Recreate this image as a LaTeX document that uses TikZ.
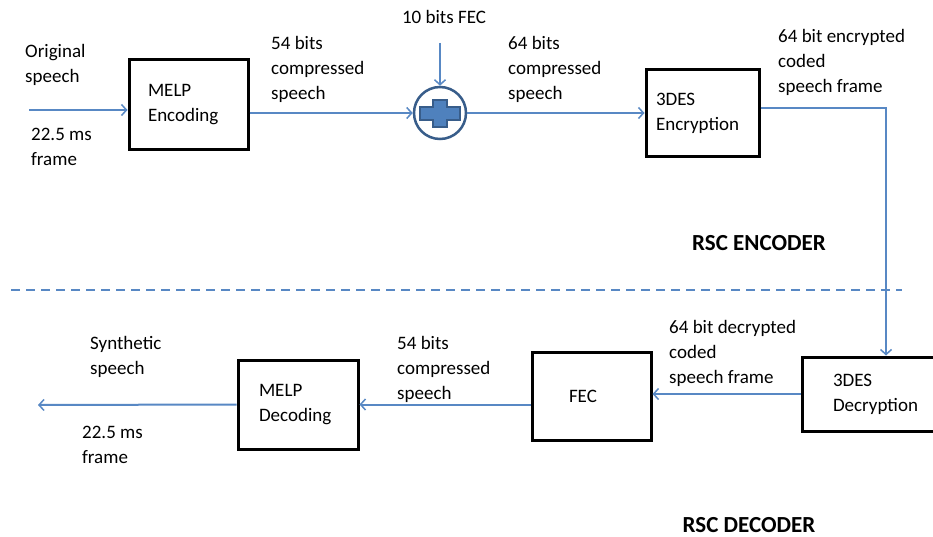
\documentclass[tikz,border=0pt]{standalone}
\usepackage{fontspec}
\setmainfont{Carlito}
\usetikzlibrary{arrows.meta,calc}
\definecolor{linec}{RGB}{88,136,196}
\definecolor{circc}{RGB}{56,93,138}
\definecolor{plusc}{RGB}{79,129,189}
\begin{document}
\begin{tikzpicture}[x=1pt,y=-1pt,
  box/.style={draw=black, line width=3pt, align=left, inner ysep=0pt,
    font=\fontsize{19}{25}\selectfont},
  lbl/.style={align=left, anchor=west, inner sep=0pt,
    font=\fontsize{19}{25}\selectfont},
  title/.style={inner sep=0pt, font=\fontsize{23}{28}\selectfont\bfseries},
  conn/.style={draw=linec, line width=2pt,
    -{Straight Barb[length=5pt,width=11pt,line width=1.5pt]}},
  plain/.style={draw=linec, line width=2pt}]
\clip (0,0) rectangle (933,537);
\fill[white] (0,0) rectangle (933,537);

% boxes
\node[box, text width=81pt, inner xsep=19pt, minimum height=90pt] (enc) at (188.5,105) {MELP\\Encoding};
\node[draw=circc, line width=2.5pt, circle, minimum size=52pt, inner sep=0pt] (sum) at (440,113) {};
\node[box, text width=93pt, inner xsep=10pt, minimum height=87pt] (encr) at (702.5,113.5) {3DES\\Encryption};
\node[box, text width=87pt, inner xsep=31pt, minimum height=74pt] (decr) at (876.5,394) {3DES\\Decryption};
\node[box, text width=45pt, inner xsep=37pt, minimum height=88pt] (fec) at (591.5,396) {FEC};
\node[box, text width=78pt, inner xsep=21pt, minimum height=89pt] (dec) at (298,404.5) {MELP\\Decoding};

% plus sign
\filldraw[fill=plusc, draw=circc, line width=1.2pt]
  (433,100)--(447,100)--(447,107)--(460,107)--(460,120)--(447,120)--(447,127)
  --(433,127)--(433,120)--(420,120)--(420,107)--(433,107)--cycle;

% free ends
\coordinate (in) at (29,110);
\coordinate (fecin) at (440,43);
\coordinate (corner) at (886,108);
\coordinate (out) at (38,405);
\coordinate (dl) at (11,290);
\coordinate (dr) at (902,290);

% connectors
\draw[conn] (in) -- (enc.west |- in);
\draw[conn] (enc.east |- sum.west) -- (sum.west);
\draw[conn] (fecin) -- (sum.north);
\draw[conn] (sum.east) -- (encr.west |- sum.east);
\draw[conn] (encr.east |- corner) -- (corner) -- (corner |- decr.north);
\draw[conn] (decr.west) -- (fec.east |- decr.west);
\draw[conn] (fec.west |- dec.east) -- (dec.east);
\draw[conn] (dec.west) -- (out);
\draw[draw=linec, line width=2.5pt, dash pattern=on 9pt off 6pt] (dl) -- (dr);

% labels
\node[lbl] (l1) at (25,65) {Original\\speech};
\node[lbl] (l2) at (31,147) {22.5 ms\\frame};
\node[lbl] (l3) at (271,69) {54 bits\\ compressed\\speech};
\node[lbl, anchor=center] (l4) at (444,17) {10 bits FEC};
\node[lbl] (l5) at (508,69) {64 bits\\ compressed\\speech};
\node[lbl] (l6) at (778,62) {64 bit encrypted\\coded\\speech frame};
\node[title] (t1) at (759,243) {RSC ENCODER};
\node[lbl] (l7) at (669,353) {64 bit decrypted\\coded\\speech frame};
\node[lbl] (l8) at (397,369) {54 bits\\ compressed\\speech};
\node[lbl] (l9) at (90,357) {Synthetic\\speech};
\node[lbl] (l10) at (82,445) {22.5 ms\\frame};
\node[title] (t2) at (749,525) {RSC DECODER};
\end{tikzpicture}
\end{document}
